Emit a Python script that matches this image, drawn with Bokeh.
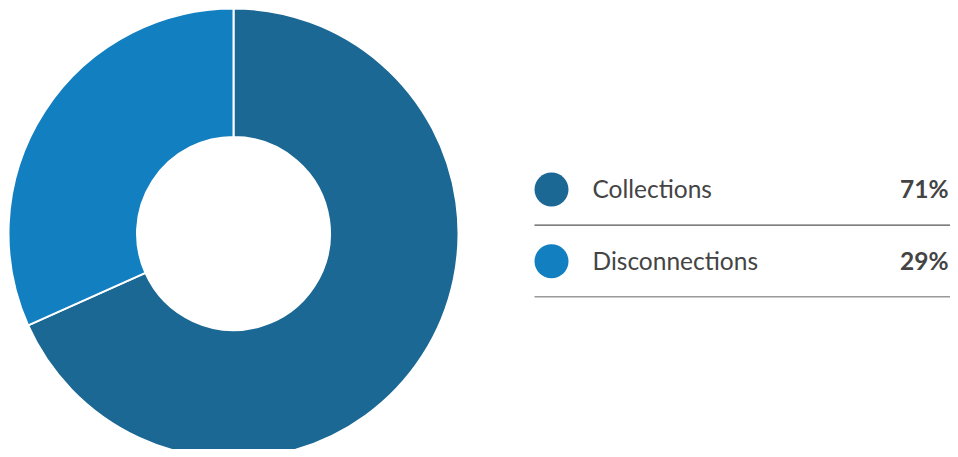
import numpy as np
from bokeh.plotting import figure
from bokeh.models import ColumnDataSource, Range1d
from bokeh.core.properties import value
from bokeh.embed import file_html
from bokeh.resources import INLINE

# Data
categories = ["Collections", "Disconnections"]
slice_shares = [68.3, 31.7]          # share of the ring as drawn in the picture
pct_labels = ["71%", "29%"]
colors = ["#1b6894", "#127fc0"]

W, H = 950, 449
p = figure(width=W, height=H, output_backend="svg", toolbar_location=None,
           x_range=Range1d(0, W), y_range=Range1d(0, H), min_border=0)
p.axis.visible = False
p.grid.visible = False
p.outline_line_color = None
p.background_fill_color = "white"
p.border_fill_color = "white"

shares = np.array(slice_shares, dtype=float)
frac = shares / shares.sum()
cum = np.concatenate([[0.0], np.cumsum(frac)])
start = np.pi / 2 - cum[:-1] * 2 * np.pi
end = np.pi / 2 - cum[1:] * 2 * np.pi

src = ColumnDataSource(dict(start=start, end=end, color=colors, cat=categories))
p.annular_wedge(x=233, y=216, inner_radius=96.5, outer_radius=225,
                start_angle="start", end_angle="end", direction="clock",
                fill_color="color", line_color="white", line_width=2, source=src)

# Legend
ly = [260, 188.3]
base = [261.5, 189.5]
leg = ColumnDataSource(dict(y=ly, b=base, color=colors, cat=categories, pct=pct_labels))
p.circle(x=551, y="y", radius=17, fill_color="color", line_color=None, source=leg)
p.text(x=592, y="b", text="cat", text_font=value("Lato"), text_font_size="24.5px",
       text_color="#444444", text_baseline="alphabetic", text_align="left", source=leg)
p.text(x=948, y="b", text="pct", text_font=value("Lato"), text_font_size="24.5px",
       text_font_style="bold", text_color="#444444", text_baseline="alphabetic",
       text_align="right", source=leg)

p.segment(x0=534, y0=224.3, x1=960, y1=224.3, line_color="#555555", line_width=1.2)
p.segment(x0=534, y0=152.7, x1=960, y1=152.7, line_color="#9a9a9a", line_width=1.5)

open("out.html", "w").write(file_html(p, INLINE))
